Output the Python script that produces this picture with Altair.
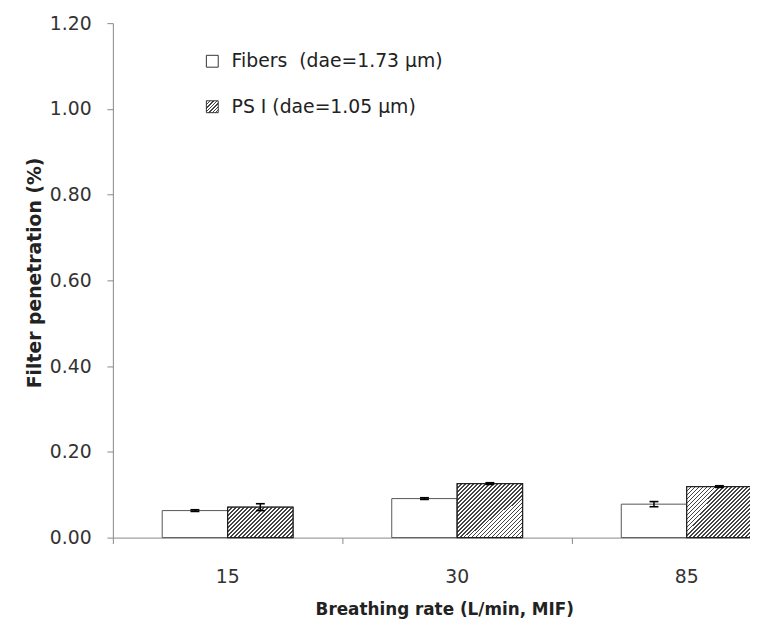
import json
import altair as alt
import pandas as pd

# ---- data ----
rates = ["15", "30", "85"]
series = ["Fibers\u00a0 (dae=1.73 µm)", "PS I (dae=1.05 µm)"]
fibers_vals = [0.063, 0.091, 0.078]
fibers_err = [0.002, 0.002, 0.006]
ps_vals = [0.071, 0.126, 0.119]
ps_err = [0.008, 0.002, 0.002]

rows = []
for i, r in enumerate(rates):
    rows.append(dict(rate=r, series=series[0], sidx=0, value=fibers_vals[i],
                     lo=fibers_vals[i] - fibers_err[i], hi=fibers_vals[i] + fibers_err[i]))
    rows.append(dict(rate=r, series=series[1], sidx=1, value=ps_vals[i],
                     lo=ps_vals[i] - ps_err[i], hi=ps_vals[i] + ps_err[i]))
df = pd.DataFrame(rows)

# ---- layout / style ----
PLOT_W, PLOT_H = 644, 520
Y_MAX = 1.2
FONT = "DejaVu Sans"
BAR_W = 66  # pixel width of one bar (for the hatch pattern)
P_INNER, P_OUTER = 0.43, 0.215


def hatch(w, h, period=4.0, frac=0.4, dark="#444444", light="#ffffff"):
    """Diagonal '/' hatch as a linear gradient in bounding-box units."""
    k = (w + h) / (w * w + h * h)
    n = max(1, int(round((w + h) / period)))
    stops = []
    for i in range(n):
        a, b, c = i / n, (i + frac) / n, (i + 1) / n
        stops += [{"offset": round(a, 4), "color": dark}, {"offset": round(b, 4), "color": dark},
                  {"offset": round(b, 4), "color": light}, {"offset": round(c, 4), "color": light}]
    return {"gradient": "linear", "x1": 0, "y1": 0, "x2": round(w * k, 4), "y2": round(h * k, 4),
            "stops": stops}


# ticks between categories (Excel style): shift tick to the step boundary
band_pos = -P_OUTER / (1 - P_INNER)

X = alt.X("rate:N", sort=rates,
          scale=alt.Scale(domain=rates, range=[0, 696],
                          paddingInner=P_INNER, paddingOuter=P_OUTER),
          axis=alt.Axis(title="Breathing rate (L/min, MIF)", labelAngle=0,
                        bandPosition=band_pos, tickSize=6, labelPadding=24,
                        titlePadding=16, titleX=335, labelFont=FONT, labelFontSize=19,
                        labelColor="#333", titleFont=FONT, titleFontSize=17,
                        titleFontWeight="bold", titleColor="#222",
                        domainColor="#888", tickColor="#888"))
XO = alt.XOffset("series:N", sort=series, scale=alt.Scale(domain=series))
Y = alt.Y("value:Q",
          scale=alt.Scale(domain=[0, Y_MAX], nice=False, zero=True),
          axis=alt.Axis(title="Filter penetration (%)", values=[0, 0.2, 0.4, 0.6, 0.8, 1.0, 1.2],
                        format=".2f", grid=False, tickSize=6, labelPadding=16,
                        titlePadding=5, titleY=252, labelFont=FONT, labelFontSize=19,
                        labelColor="#333", titleFont=FONT, titleFontSize=19,
                        titleFontWeight="bold", titleColor="#222",
                        domainColor="#888", tickColor="#888"))

legend_grad = hatch(12, 12, period=3.5)
legend = alt.Legend(
    title=None, orient="none", legendX=91, legendY=29, symbolType="square",
    symbolSize=144, symbolStrokeWidth=1, symbolStrokeColor="#333",
    symbolOpacity=1,
    labelFont=FONT, labelFontSize=19, labelColor="#222", labelLimit=400,
    rowPadding=26, labelOffset=10, padding=0)

base = alt.Chart(df)

bars = base.mark_bar(stroke="#555", strokeWidth=1, opacity=1).encode(
    x=X, xOffset=XO, y=Y,
    fill=alt.Fill("series:N", sort=series,
                  scale=alt.Scale(domain=series,
                                  range=["#ffffff", alt.ExprRef(json.dumps(legend_grad))]),
                  legend=legend))

px_per_unit = PLOT_H / Y_MAX
hatched = []
for i, r in enumerate(rates):
    g = hatch(BAR_W, ps_vals[i] * px_per_unit)
    hatched.append(
        base.transform_filter((alt.datum.sidx == 1) & (alt.datum.rate == r))
        .mark_bar(fill=g, stroke="#222", strokeWidth=1.3, opacity=1)
        .encode(x=X, xOffset=XO, y=Y))

err_rule = base.mark_rule(color="#000", strokeWidth=1.5).encode(
    x=X, xOffset=XO, y=alt.Y("lo:Q"), y2="hi:Q")
cap_lo = base.mark_tick(color="#000", thickness=1.6, size=9, opacity=1).encode(
    x=X, xOffset=XO, y=alt.Y("lo:Q"))
cap_hi = base.mark_tick(color="#000", thickness=1.6, size=9, opacity=1).encode(
    x=X, xOffset=XO, y=alt.Y("hi:Q"))

chart = alt.layer(bars, *hatched, err_rule, cap_lo, cap_hi).properties(
    width=PLOT_W, height=PLOT_H,
    autosize=alt.AutoSizeParams(type="none"),
    padding={"left": 106, "top": 12, "right": 0, "bottom": 82},
    background="white",
).configure_view(stroke=None)

chart.save("out.html", embed_options={"renderer": "svg", "actions": False})
